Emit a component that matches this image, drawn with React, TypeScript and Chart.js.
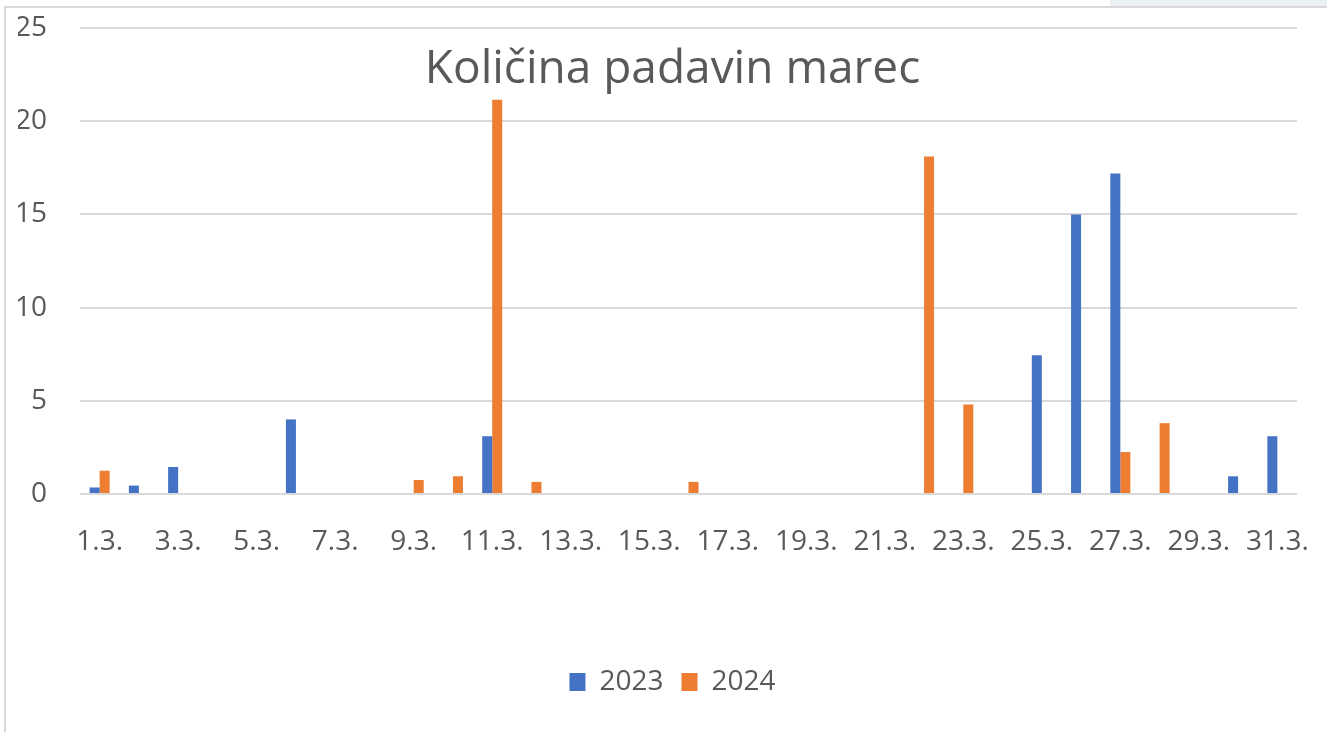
import React, { useEffect, useRef } from "react";
import { Chart, registerables } from "chart.js";

Chart.register(...registerables);

const categories = [
  "1.3.", "2.3.", "3.3.", "4.3.", "5.3.", "6.3.", "7.3.", "8.3.", "9.3.", "10.3.",
  "11.3.", "12.3.", "13.3.", "14.3.", "15.3.", "16.3.", "17.3.", "18.3.", "19.3.", "20.3.",
  "21.3.", "22.3.", "23.3.", "24.3.", "25.3.", "26.3.", "27.3.", "28.3.", "29.3.", "30.3.", "31.3.",
];

const values2023 = [
  0.35, 0.45, 1.45, 0, 0, 4.0, 0, 0, 0, 0,
  3.1, 0, 0, 0, 0, 0, 0, 0, 0, 0,
  0, 0, 0, 0, 7.45, 15.0, 17.2, 0, 0, 0.95, 3.1,
];

const values2024 = [
  1.25, 0, 0, 0, 0, 0, 0, 0, 0.75, 0.95,
  21.15, 0.65, 0, 0, 0, 0.65, 0, 0, 0, 0,
  0, 18.1, 4.8, 0, 0, 0, 2.25, 3.8, 0, 0, 0,
];

const seriesNames = ["2023", "2024"];
const yTicks = [0, 5, 10, 15, 20, 25];
const titleText = "Količina padavin marec";

const FONT = "'Open Sans', 'Noto Sans', sans-serif";
const TEXT = "#595959";

export default function App() {
  const ref = useRef<HTMLCanvasElement | null>(null);

  useEffect(() => {
    if (!ref.current) return;
    const chart = new Chart(ref.current, {
      type: "bar",
      data: {
        labels: categories,
        datasets: [
          {
            label: seriesNames[0],
            data: values2023,
            backgroundColor: "#4472C4",
            borderWidth: 0,
            barPercentage: 1,
            categoryPercentage: 0.51,
          },
          {
            label: seriesNames[1],
            data: values2024,
            backgroundColor: "#ED7D31",
            borderWidth: 0,
            barPercentage: 1,
            categoryPercentage: 0.51,
          },
        ],
      },
      options: {
        animation: false,
        responsive: true,
        maintainAspectRatio: false,
        layout: { padding: { top: 0, right: 0, bottom: 26, left: 18 } },
        plugins: {
          title: {
            display: true,
            text: titleText,
            color: TEXT,
            font: { family: FONT, size: 46, weight: "normal", lineHeight: 1.2 },
            padding: { top: 42, bottom: -69.2 },
          },
          legend: {
            position: "bottom",
            labels: {
              color: TEXT,
              font: { family: FONT, size: 28 },
              boxWidth: 16,
              boxHeight: 18,
              padding: 18,
            },
          },
          tooltip: { enabled: false },
        },
        scales: {
          x: {
            grid: { display: false, drawTicks: false },
            border: { display: false },
            ticks: {
              color: TEXT,
              font: { family: FONT, size: 28 },
              autoSkip: false,
              maxRotation: 0,
              minRotation: 0,
              padding: 31,
              callback: (_v: any, idx: number) => (idx % 2 === 0 ? categories[idx] : ""),
            },
            afterFit: (scale: any) => {
              scale.height = 156;
              scale.paddingLeft = 0;
              scale.paddingRight = 0;
            },
          },
          y: {
            min: 0,
            max: 25,
            afterBuildTicks: (scale: any) => {
              scale.ticks = yTicks.map((v) => ({ value: v }));
            },
            grid: { color: "#D9D9D9", lineWidth: 2, drawTicks: false },
            border: { display: false },
            ticks: {
              color: TEXT,
              font: { family: FONT, size: 28 },
              padding: 33,
            },
            afterFit: (scale: any) => {
              scale.width = 62;
              scale.paddingTop = 17;
              scale.paddingBottom = 17;
            },
          },
          yRight: {
            position: "right",
            display: true,
            grid: { display: false, drawTicks: false },
            border: { display: false },
            ticks: { display: false },
            afterFit: (scale: any) => {
              scale.width = 30;
              scale.paddingTop = 0;
              scale.paddingBottom = 0;
            },
          },
        },
      },
    });
    return () => chart.destroy();
  }, []);

  return (
    <div
      style={{
        position: "fixed",
        left: 0,
        top: 0,
        width: 1327,
        height: 732,
        background: "#ffffff",
        overflow: "hidden",
      }}
    >
      <div style={{ position: "absolute", left: 1110, top: 0, width: 217, height: 6, background: "#EAF2F6" }} />
      <div style={{ position: "absolute", left: 4, top: 6, width: 1323, height: 2, background: "#D9D9D9" }} />
      <div style={{ position: "absolute", left: 4, top: 6, width: 2, height: 726, background: "#D9D9D9" }} />
      <div style={{ position: "absolute", left: 0, top: 0, width: 1327, height: 732 }}>
        <canvas ref={ref} />
      </div>
    </div>
  );
}
